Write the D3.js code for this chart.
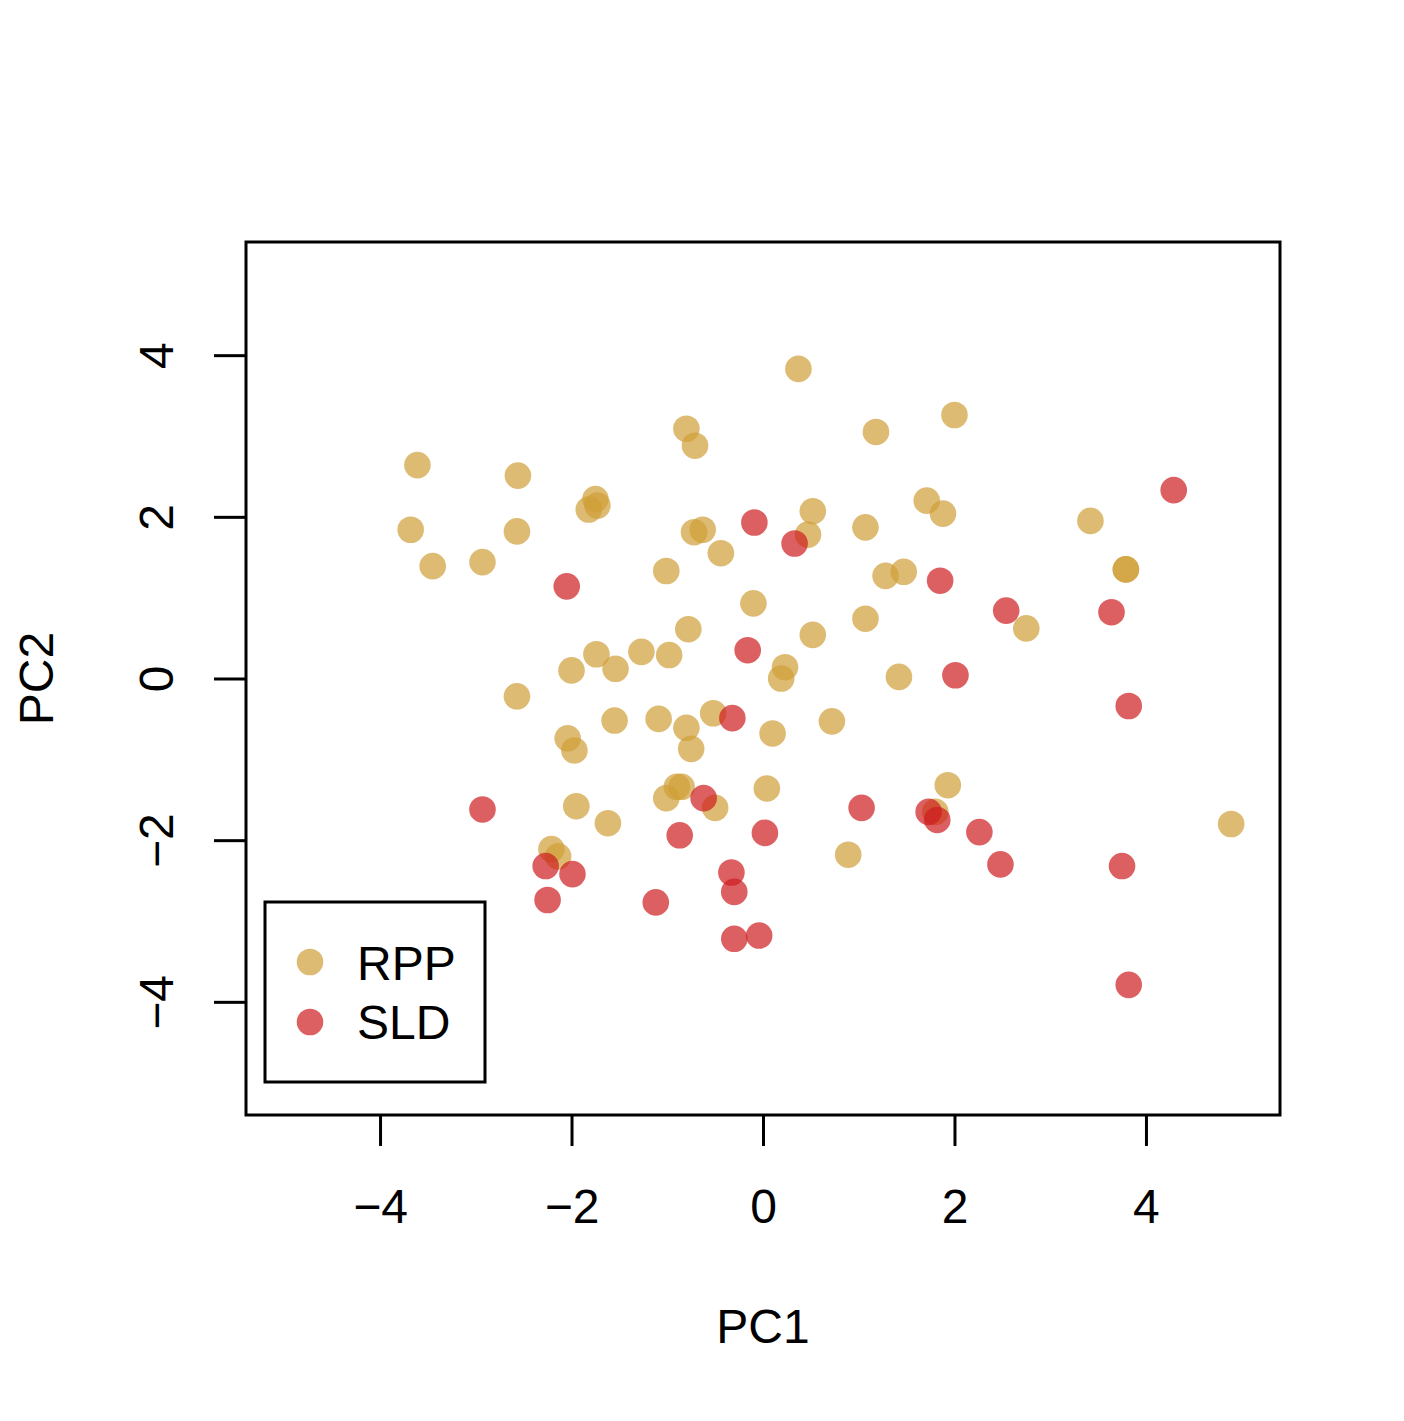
<!DOCTYPE html>
<html>
<head>
<meta charset="utf-8">
<script src="https://cdn.jsdelivr.net/npm/d3@7"></script>
<style>
  body { margin: 0; background: #fff; }
  svg text { font-family: "Liberation Sans", Arial, Helvetica, sans-serif; fill: #000; }
</style>
</head>
<body>
<svg id="chart" width="1404" height="1421"></svg>
<script>
// PC1 / PC2 scores
const rppPC1 = [-3.61, -2.56, -0.80, -0.71, -1.75, -1.73, -1.82, -3.68, -2.57, -3.45, -2.93, -0.72, -0.63, -0.44, -1.01, -0.10, -0.78, -2.00, -1.74, -1.54, -1.27, -0.98,
  0.37, 2.00, 1.18, 0.52, 0.47, 1.07, 1.71, 1.88, 3.42, 1.28, 1.47, 3.79, 3.79, 2.75, 1.07, 0.52, 0.23, 0.19, 1.42,
  -2.57, -2.04, -1.97, -1.55, -1.09, -0.80, -0.75, -0.52, 0.10, 0.04, 0.72, -1.95, -1.62, -1.01, -0.90, -0.85, -0.50, -2.21, -2.14, 1.93, 1.80, 4.89, 0.89];
const rppPC2 = [2.64, 2.51, 3.09, 2.88, 2.22, 2.14, 2.09, 1.84, 1.82, 1.39, 1.44, 1.81, 1.84, 1.55, 1.33, 0.93, 0.61, 0.10, 0.30, 0.12, 0.33, 0.29,
  3.83, 3.26, 3.05, 2.07, 1.78, 1.87, 2.20, 2.04, 1.95, 1.27, 1.32, 1.35, 1.35, 0.62, 0.74, 0.54, 0.14, 0.00, 0.02,
  -0.22, -0.74, -0.89, -0.52, -0.50, -0.61, -0.87, -0.43, -0.68, -1.36, -0.53, -1.58, -1.79, -1.48, -1.34, -1.34, -1.60, -2.11, -2.20, -1.32, -1.65, -1.80, -2.18];

const sldPC1 = [-2.05, -0.09, -0.16, 4.29, 0.33, 1.85, 2.54, 3.64, 2.01, -0.32, -2.93, -0.62, -0.87, 0.02, -2.27, -1.99, -2.25, -1.12, -0.33, -0.30, -0.30, -0.04, 3.82, 1.03, 1.73, 1.82, 2.26, 2.48, 3.75, 3.82];
const sldPC2 = [1.14, 1.93, 0.35, 2.33, 1.67, 1.21, 0.84, 0.82, 0.04, -0.49, -1.62, -1.48, -1.94, -1.91, -2.32, -2.42, -2.74, -2.77, -2.40, -2.64, -3.22, -3.18, -0.34, -1.60, -1.65, -1.75, -1.90, -2.30, -2.32, -3.79];

const groups = ["RPP", "SLD"];
const groupColors = ["rgba(208,158,55,0.7)", "rgba(205,28,31,0.7)"];
const xTicks = [-4, -2, 0, 2, 4];
const yTicks = [-4, -2, 0, 2, 4];

const svg = d3.select("#chart");

const box = { left: 246, right: 1280, top: 242, bottom: 1115 };
const x = d3.scaleLinear().domain([-5.4, 5.4]).range([box.left, box.right]);
const y = d3.scaleLinear().domain([-5.4, 5.4]).range([box.bottom, box.top]);

const fmt = (d) => (d < 0 ? "\u2212" + Math.abs(d) : String(d));

// points
const series = [
  rppPC1.map((v, i) => ({ pc1: v, pc2: rppPC2[i], g: 0 })),
  sldPC1.map((v, i) => ({ pc1: v, pc2: sldPC2[i], g: 1 })),
];
series.forEach((pts) => {
  svg.append("g")
    .selectAll("circle")
    .data(pts)
    .join("circle")
    .attr("cx", (d) => x(d.pc1))
    .attr("cy", (d) => y(d.pc2))
    .attr("r", 13.3)
    .attr("fill", (d) => groupColors[d.g]);
});

// x axis
const xAxis = svg.append("g")
  .attr("transform", `translate(0,${box.bottom})`)
  .call(d3.axisBottom(x).tickValues(xTicks).tickSize(31).tickPadding(0).tickFormat(() => ""));
xAxis.select(".domain").remove();
xAxis.selectAll("line").attr("stroke", "#000").attr("stroke-width", 3);
xAxis.selectAll(".tick").append("text")
  .attr("y", 108)
  .attr("text-anchor", "middle")
  .style("font-size", "48px")
  .text((d) => fmt(d));

// y axis
const yAxis = svg.append("g")
  .attr("transform", `translate(${box.left},0)`)
  .call(d3.axisLeft(y).tickValues(yTicks).tickSize(32).tickPadding(0).tickFormat(() => ""));
yAxis.select(".domain").remove();
yAxis.selectAll("line").attr("stroke", "#000").attr("stroke-width", 3);
yAxis.selectAll(".tick").append("text")
  .attr("transform", "translate(-73,0) rotate(-90)")
  .attr("text-anchor", "middle")
  .style("font-size", "48px")
  .text((d) => fmt(d));

// plot frame
svg.append("rect")
  .attr("x", box.left).attr("y", box.top)
  .attr("width", box.right - box.left).attr("height", box.bottom - box.top)
  .attr("fill", "none").attr("stroke", "#000").attr("stroke-width", 3);

// axis titles
svg.append("text")
  .attr("x", x(0)).attr("y", 1343)
  .attr("text-anchor", "middle")
  .style("font-size", "48px")
  .text("PC1");
svg.append("text")
  .attr("transform", `translate(53,${y(0)}) rotate(-90)`)
  .attr("text-anchor", "middle")
  .style("font-size", "48px")
  .text("PC2");

// legend
const legend = svg.append("g");
legend.append("rect")
  .attr("x", 265).attr("y", 902).attr("width", 220).attr("height", 180)
  .attr("fill", "#fff").attr("stroke", "#000").attr("stroke-width", 3);
groups.forEach((name, i) => {
  legend.append("circle")
    .attr("cx", 310).attr("cy", 962 + i * 60)
    .attr("r", 13.3)
    .attr("fill", groupColors[i]);
  legend.append("text")
    .attr("x", 357).attr("y", 980 + i * 59)
    .style("font-size", "48px")
    .text(name);
});
</script>
</body>
</html>
